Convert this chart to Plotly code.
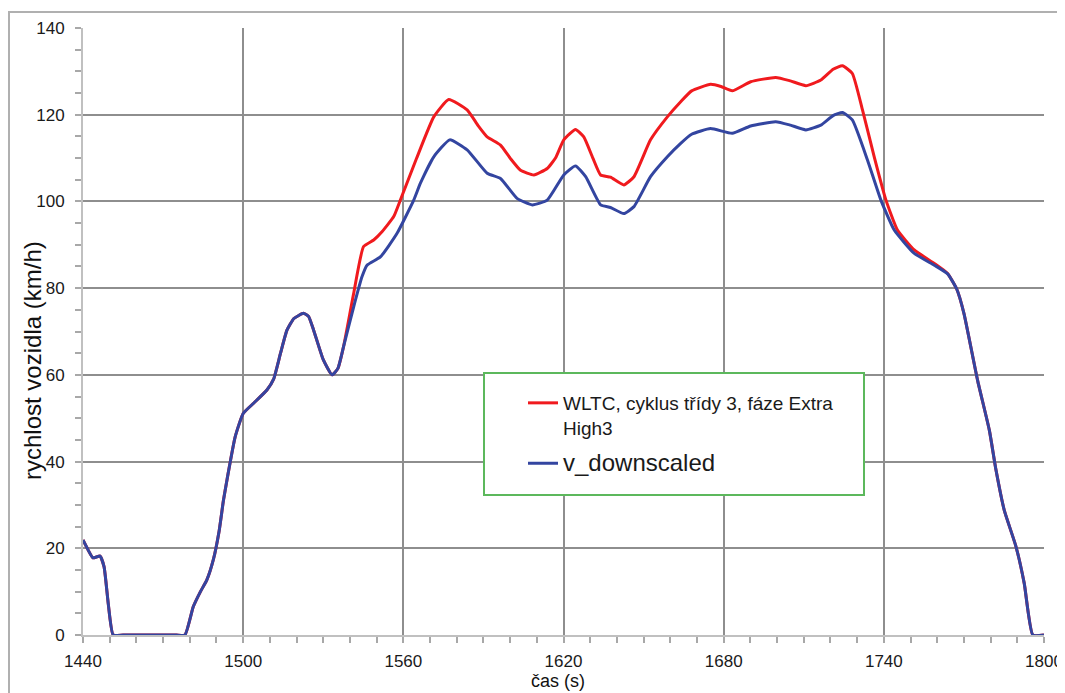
import plotly.graph_objects as go

# ---- data ----
# shared start of both curves (s, km/h)
t_start = [1440, 1442, 1443.7, 1446.4, 1447.9, 1449.5, 1451.3, 1455, 1465, 1475, 1478.2, 1481.3, 1484,
           1486.4, 1488.8, 1491, 1492.6, 1494, 1497, 1500, 1504, 1508.9, 1511.4, 1514, 1516.4, 1519,
           1522.6, 1524.5, 1526.4, 1530, 1533.3, 1535.5, 1537.6]
v_start = [21.9, 19.5, 17.8, 18.2, 15.7, 7, 0, 0, 0, 0, 0, 6.5, 10,
           12.7, 17.3, 24, 31, 36, 45.7, 51.1, 53.5, 56.5, 59, 65, 70.3, 73,
           74.2, 73.5, 70.3, 63.5, 60, 61.5, 66.5]

# WLTC class 3, Extra High3 phase (middle part)
t_wltc = [1541.4, 1545.1, 1548.9, 1552, 1556.4, 1559, 1565, 1571.4, 1577, 1583.9, 1588, 1591.4,
          1596.4, 1600, 1603.9, 1608.9, 1613.9, 1617, 1620.1, 1624.5, 1627.6, 1631, 1633.9,
          1637.6, 1642.6, 1646.4, 1652.6, 1658.9, 1663.9, 1668, 1675.1, 1679, 1683.2, 1690.1,
          1699.5, 1705, 1710.8, 1716.4, 1721, 1724.5, 1728.2, 1732, 1736.4, 1740.8, 1745.1,
          1751.4, 1758.9, 1763.9]
v_wltc = [78.8, 89.6, 91.1, 93, 96.5, 100.5, 110, 119.5, 123.5, 121.1, 117.5, 114.9,
          113.0, 110, 107.2, 106.1, 107.6, 110, 114.2, 116.6, 114.9, 110, 106.1,
          105.6, 103.8, 105.7, 114.2, 119.5, 123.0, 125.5, 127.0, 126.5, 125.5, 127.6,
          128.6, 127.8, 126.7, 128.0, 130.5, 131.3, 129.5, 121.1, 110.3, 100.3, 93.4,
          88.8, 85.7, 83.4]

# v_downscaled (middle part)
t_down = [1541.4, 1544.5, 1546.4, 1551.4, 1557.6, 1563.9, 1566.4, 1571.4, 1577.4, 1583.9, 1591.4,
          1596.4, 1602.6, 1608.3, 1613.9, 1620.1, 1624.5, 1628.3, 1633.9, 1637.6, 1642.6, 1646.4,
          1652.6, 1658.9, 1663.9, 1668, 1675.1, 1683.2, 1690.1, 1699.5, 1705, 1710.8, 1716.4,
          1721, 1724.5, 1728.2, 1733.9, 1738.9, 1743.9, 1751.4, 1758.9, 1763.9]
v_down = [75.7, 82.6, 85.3, 87.2, 92.6, 100.3, 104.2, 110.3, 114.2, 111.9, 106.5,
          105.3, 100.7, 99.2, 100.3, 106.1, 108.2, 105.7, 99.2, 98.6, 97.2, 98.8,
          105.7, 110.3, 113.4, 115.5, 116.8, 115.7, 117.4, 118.4, 117.6, 116.5, 117.6,
          119.8, 120.5, 118.8, 109.5, 100.3, 93.4, 88.0, 85.3, 83.3]

# shared end of both curves
t_end = [1767.3, 1770, 1775.1, 1779.5, 1782, 1785.1, 1789.5, 1792.6, 1795.8, 1800]
v_end = [79.8, 74.2, 58.8, 47.3, 38.1, 28.8, 20.4, 11.9, 0, 0]

x_ticks = [1440, 1500, 1560, 1620, 1680, 1740, 1800]
y_ticks = [0, 20, 40, 60, 80, 100, 120, 140]

name_wltc = "WLTC, cyklus třídy 3, fáze Extra<br>High3"
name_down = '<span style="font-size:24px">v_downscaled</span>'

FONT = "Liberation Sans, Arial, sans-serif"

# ---- figure (page body has an 8px margin, so sizes are compensated) ----
OFF = 8
W, H = 1065 - OFF, 693 - OFF
ML, MT = 83 - OFF, 28 - OFF
MR = W - (1044 - OFF)
MB = H - (635 - OFF)
PW, PH = W - ML - MR, H - MT - MB


def px(xs):
    """screen x pixel -> paper fraction"""
    return (xs - OFF - ML) / PW


def py(ys):
    """screen y pixel -> paper fraction"""
    return (H - MB - (ys - OFF)) / PH


fig = go.Figure()
fig.add_trace(go.Scatter(
    x=t_start + t_wltc + t_end, y=v_start + v_wltc + v_end,
    mode="lines", name=name_wltc, legendgroup="a",
    line=dict(color="#f01a1e", width=3, shape="spline", smoothing=0.45)))
fig.add_trace(go.Scatter(
    x=t_start + t_down + t_end, y=v_start + v_down + v_end,
    mode="lines", name=name_down, legendgroup="b",
    line=dict(color="#3345a0", width=3, shape="spline", smoothing=0.45)))

axis_common = dict(
    showgrid=True, gridcolor="#8e8e8e", gridwidth=1.5,
    showline=True, linecolor="#c0c0c0", linewidth=2,
    ticks="outside", ticklen=6, tickcolor="#a8a8a8", tickwidth=1.5,
    zeroline=False, automargin=False,
    tickfont=dict(family=FONT, size=17, color="#1a1a1a"),
)

overlay_common = dict(
    showgrid=False, showticklabels=False, zeroline=False, showline=False,
    ticks="inside", ticklen=5, tickcolor="#a8a8a8", tickwidth=1.5, automargin=False,
)

fig.update_layout(
    width=W, height=H,
    margin=dict(l=ML, r=MR, t=MT, b=MB, autoexpand=False),
    paper_bgcolor="white", plot_bgcolor="white",
    showlegend=True,
    xaxis=dict(range=[1440, 1800], tickvals=x_ticks, ticktext=[str(v) for v in x_ticks],
               minor=dict(dtick=10, ticks="outside", ticklen=6, tickcolor="#a8a8a8",
                          tickwidth=1.5, showgrid=False),
               ticklabelstandoff=4,
               **axis_common),
    yaxis=dict(range=[0, 140], tickvals=y_ticks, ticktext=[str(v) for v in y_ticks],
               minor=dict(dtick=5, ticks="outside", ticklen=6, tickcolor="#a8a8a8",
                          tickwidth=1.5, showgrid=False),
               ticklabelstandoff=7,
               **axis_common),
    xaxis2=dict(range=[1440, 1800], overlaying="x", anchor="y", side="bottom",
                tickvals=x_ticks,
                minor=dict(dtick=10, ticks="inside", ticklen=5, tickcolor="#a8a8a8", tickwidth=1.5),
                **overlay_common),
    yaxis2=dict(range=[0, 140], overlaying="y", anchor="x", side="left",
                tickvals=y_ticks,
                minor=dict(dtick=5, ticks="inside", ticklen=5, tickcolor="#a8a8a8", tickwidth=1.5),
                **overlay_common),
    legend=dict(x=px(523), y=py(384), xanchor="left", yanchor="top",
                bgcolor="rgba(0,0,0,0)", borderwidth=0, valign="top",
                font=dict(family=FONT, size=19, color="#1a1a1a"),
                itemwidth=30, tracegroupgap=8),
    shapes=[
        # outer chart frame
        dict(type="rect", xref="paper", yref="paper",
             x0=px(9), x1=px(1090), y0=py(720), y1=py(12),
             line=dict(color="#b0b0b0", width=2), fillcolor="rgba(0,0,0,0)", layer="below"),
        # legend box
        dict(type="rect", xref="paper", yref="paper",
             x0=px(484), x1=px(864), y0=py(495), y1=py(373),
             line=dict(color="#5cb85c", width=2), fillcolor="white", layer="above"),
    ],
    annotations=[
        dict(text="rychlost vozidla (km/h)", textangle=-90, xref="paper", yref="paper",
             x=px(33), y=py(361), xanchor="center", yanchor="middle", showarrow=False,
             font=dict(family=FONT, size=24, color="#111111")),
        dict(text="čas (s)", xref="paper", yref="paper",
             x=px(558), y=py(681), xanchor="center", yanchor="middle", showarrow=False,
             font=dict(family=FONT, size=18, color="#111111")),
    ],
)

fig.write_html("out.html")
